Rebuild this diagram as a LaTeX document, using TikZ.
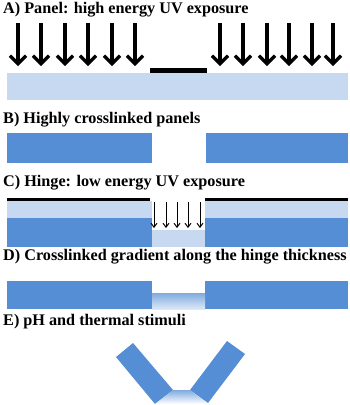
\documentclass[tikz,border=0pt]{standalone}
\usepackage{fontspec}
\setmainfont{Liberation Serif}
\usetikzlibrary{arrows.meta}
\definecolor{panelblue}{RGB}{85,142,213}
\definecolor{paleblue}{RGB}{198,217,241}

\begin{document}
\begin{tikzpicture}[x=1pt,y=-1pt,
  every node/.style={font=\fontsize{16.2}{18}\selectfont\bfseries,inner sep=0pt,anchor=base west},
  uvbig/.style={line width=3.2pt,-{Straight Barb[length=8pt,width=16pt]}},
  uvsmall/.style={line width=1pt,-{Straight Barb[length=4pt,width=6pt]}},
  mask/.style={fill=black},
  gel/.style={fill=panelblue},
  softgel/.style={fill=paleblue}]
\useasboundingbox (0,0) rectangle (350,405);
% A) whole sheet
\node (titleA) at (3,13) {A) Panel: high energy UV exposure};
\foreach \x in {18,41,65,88,112,135,220,243,267,289,312,333}
  \draw[uvbig] (\x,23) -- (\x,66);
\fill[mask] (150,68) rectangle (207,73);
\fill[softgel] (7,73) rectangle (348,100);
% B) panels only
\node (titleB) at (3,123) {B) Highly crosslinked panels};
\fill[gel] (7,133) rectangle (152,163);
\fill[gel] (206,133) rectangle (348,163);
% C) second exposure
\node (titleC) at (3,186) {C) Hinge: low energy UV exposure};
\fill[mask] (7,198) rectangle (150,201);
\fill[mask] (205,198) rectangle (348,202);
\fill[softgel] (7,201) rectangle (152,218);
\fill[softgel] (205,201) rectangle (348,218);
\fill[gel] (7,218) rectangle (152,247);
\fill[gel] (205,218) rectangle (348,247);
\fill[softgel] (152,230) rectangle (205,247);
\foreach \x in {154,166,177,188,200}
  \draw[uvsmall] (\x,202) -- (\x,228);
% D) gradient hinge
\node (titleD) at (3,260) {D) Crosslinked gradient along the hinge thickness};
\fill[gel] (7,281) rectangle (152,309);
\fill[gel] (205,281) rectangle (348,309);
\shade[top color=panelblue!75,bottom color=paleblue!60] (152,293) rectangle (205,309);
% E) folded
\node (titleE) at (3,325) {E) pH and thermal stimuli};
\fill[gel] (116,357) -- (133,343) -- (173,390) -- (155,404) -- cycle;
\fill[gel] (190,390) -- (227,341) -- (245,354) -- (208,403) -- cycle;
\shade[top color=panelblue!75,bottom color=white] (173,390) -- (190,390) -- (208,403.5) -- (155,404) -- cycle;
\end{tikzpicture}
\end{document}
